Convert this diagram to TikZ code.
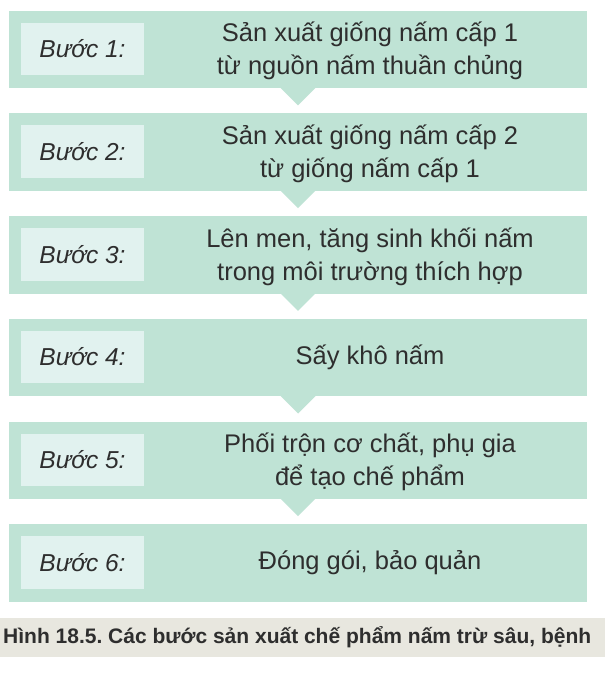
\documentclass[tikz,border=0pt]{standalone}
\usepackage{fontspec}
\setmainfont{Liberation Sans}
\usetikzlibrary{calc}
\frenchspacing
\definecolor{boxfill}{HTML}{BFE3D5}
\definecolor{labfill}{HTML}{E1F2EF}
\definecolor{txt}{HTML}{2E2E2E}
\definecolor{capband}{HTML}{E8E7DF}
\tikzset{
  stepbox/.style={fill=boxfill, draw=none, minimum width=578pt, minimum height=77.5pt, inner sep=0pt},
  labbox/.style={fill=labfill, draw=none, minimum width=123pt, minimum height=52.5pt, inner sep=0pt, text=txt, font=\fontsize{24.5}{28}\selectfont\itshape},
  maintext/.style={align=center, text=txt, inner sep=0pt, font=\fontsize{25.5}{33}\selectfont},
  pointer/.style={fill=boxfill, draw=none}
}
\begin{document}
\begin{tikzpicture}[x=1pt,y=-1pt]
\useasboundingbox (0,0) rectangle (605,674);
\fill[white] (0,0) rectangle (605,674);
% caption band
\fill[capband] (0,618) rectangle (605,657);
\foreach \i/\lab/\txt/\dy in {
  1/{Bước 1:}/{Sản xuất giống nấm cấp 1\\từ nguồn nấm thuần chủng}/1.5,
  2/{Bước 2:}/{Sản xuất giống nấm cấp 2\\từ giống nấm cấp 1}/1.5,
  3/{Bước 3:}/{Lên men, tăng sinh khối nấm\\trong môi trường thích hợp}/1.5,
  4/{Bước 4:}/{Sấy khô nấm}/0,
  5/{Bước 5:}/{Phối trộn cơ chất, phụ gia\\để tạo chế phẩm}/1.5,
  6/{Bước 6:}/{Đóng gói, bảo quản}/0}{
  \pgfmathsetmacro{\cy}{10.7+102.7*(\i-1)+38.75}
  \node[stepbox] (b\i) at (298,\cy) {};
  \node[labbox] (l\i) at (82.5,\cy-0.5) {\lab};
  \node[maintext] (t\i) at (370,\cy+\dy) {\txt};
}
\foreach \i in {1,...,5}{
  \coordinate (tip\i) at ($(b\i.south)+(0,17)$);
  \fill[pointer] ($(b\i.south)+(-17.5,-0.5)$) -- ($(b\i.south)+(17.5,-0.5)$) -- (tip\i) -- cycle;
}
\node[anchor=west, inner sep=0pt, text=txt, font=\fontsize{21}{24}\selectfont\bfseries] (cap) at (3,637.5) {Hình 18.5. Các bước sản xuất chế phẩm nấm trừ sâu, bệnh};
\end{tikzpicture}
\end{document}
